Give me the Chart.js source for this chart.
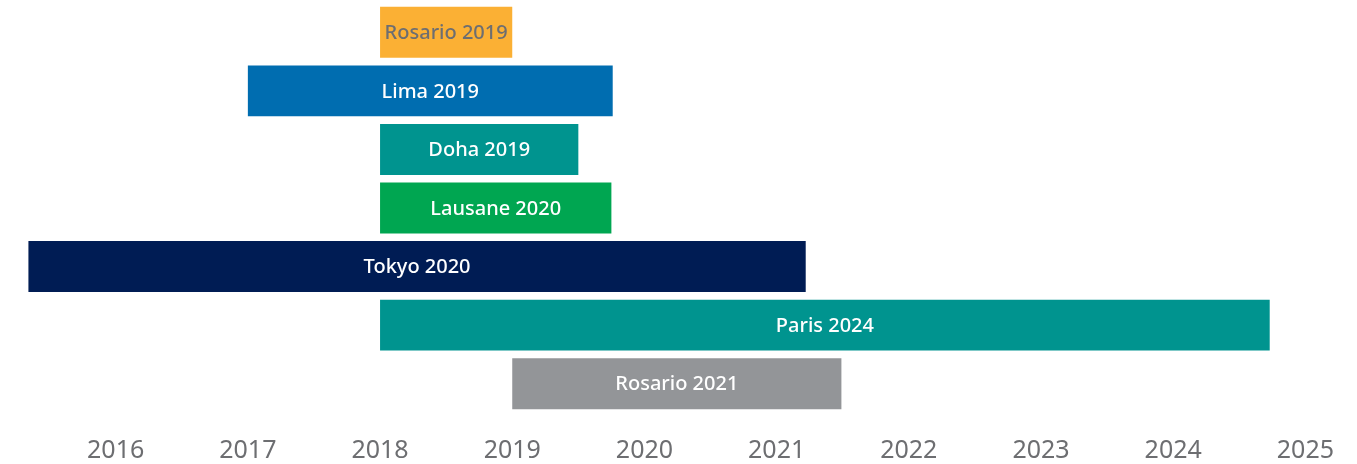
<!DOCTYPE html>
<html lang="en">

<head>
    <meta charset="UTF-8">
    <title>Event timeline</title>
    <style>
        html, body { margin: 0; padding: 0; background: #fff; }
        #wrap { width: 1357px; height: 464px; }
    </style>
</head>

<body>
    <div id="wrap"><canvas id="myChart01"></canvas></div>
    <script src="https://cdn.jsdelivr.net/npm/chart.js"></script>
    <script>
        // events, top to bottom
        var events = ['Rosario 2019', 'Lima 2019', 'Doha 2019', 'Lausane 2020', 'Tokyo 2020', 'Paris 2024', 'Rosario 2021'];
        // start / end of each bar (decimal years)
        var startYears = [2018.0, 2017.0, 2018.0, 2018.0, 2015.34, 2018.0, 2019.0];
        var endYears = [2019.0, 2019.76, 2019.5, 2019.75, 2021.22, 2024.73, 2021.49];
        // x axis tick labels
        var years = [2016, 2017, 2018, 2019, 2020, 2021, 2022, 2023, 2024, 2025];

        var barColors = ['#fbb034', '#006db0', '#00948f', '#00a651', '#001c54', '#00948f', '#939598'];
        var textColors = ['#6d6e71', '#fff', '#fff', '#fff', '#fff', '#fff', '#fff'];

        var spans = [];
        events.forEach(function (item, i) {
            spans.push([startYears[i], endYears[i]]);
        });

        // write the event name in the middle of each bar
        var barText = {
            id: 'barText',
            afterDatasetsDraw: function (chart) {
                var ctx = chart.ctx;
                var meta = chart.getDatasetMeta(0);
                ctx.save();
                ctx.font = '500 20px "Noto Sans"';
                ctx.textAlign = 'center';
                ctx.textBaseline = 'middle';
                meta.data.forEach(function (bar, i) {
                    var p = bar.getCenterPoint();
                    ctx.fillStyle = textColors[i];
                    ctx.fillText(events[i], p.x, p.y + 1);
                });
                ctx.restore();
            }
        };

        const ctx01 = document.getElementById('myChart01');
        var mychart01 = new Chart(ctx01, {
            type: 'bar',
            data: {
                labels: events,
                datasets: [{
                    data: spans,
                    backgroundColor: barColors,
                    borderWidth: 0,
                    borderSkipped: false,
                    categoryPercentage: 1,
                    barPercentage: 0.87
                }]
            },
            options: {
                indexAxis: 'y',
                responsive: true,
                maintainAspectRatio: false,
                animation: false,
                layout: { padding: { top: 3, bottom: 0, left: 0, right: 0 } },
                plugins: {
                    legend: { display: false },
                    tooltip: { enabled: false }
                },
                scales: {
                    x: {
                        type: 'linear',
                        min: 2015.125,
                        max: 2025.367,
                        grid: { display: false, drawTicks: false },
                        border: { display: false },
                        afterBuildTicks: function (scale) {
                            scale.ticks = years.map(function (v) { return { value: v }; });
                        },
                        afterFit: function (scale) {
                            scale.height = 51;
                        },
                        ticks: {
                            padding: 23,
                            color: '#6d6e71',
                            font: { family: 'Noto Sans', size: 25 },
                            maxRotation: 0,
                            autoSkip: false,
                            callback: function (v) { return String(v); }
                        }
                    },
                    y: {
                        display: false
                    }
                }
            },
            plugins: [barText]
        });
    </script>
</body>

</html>
